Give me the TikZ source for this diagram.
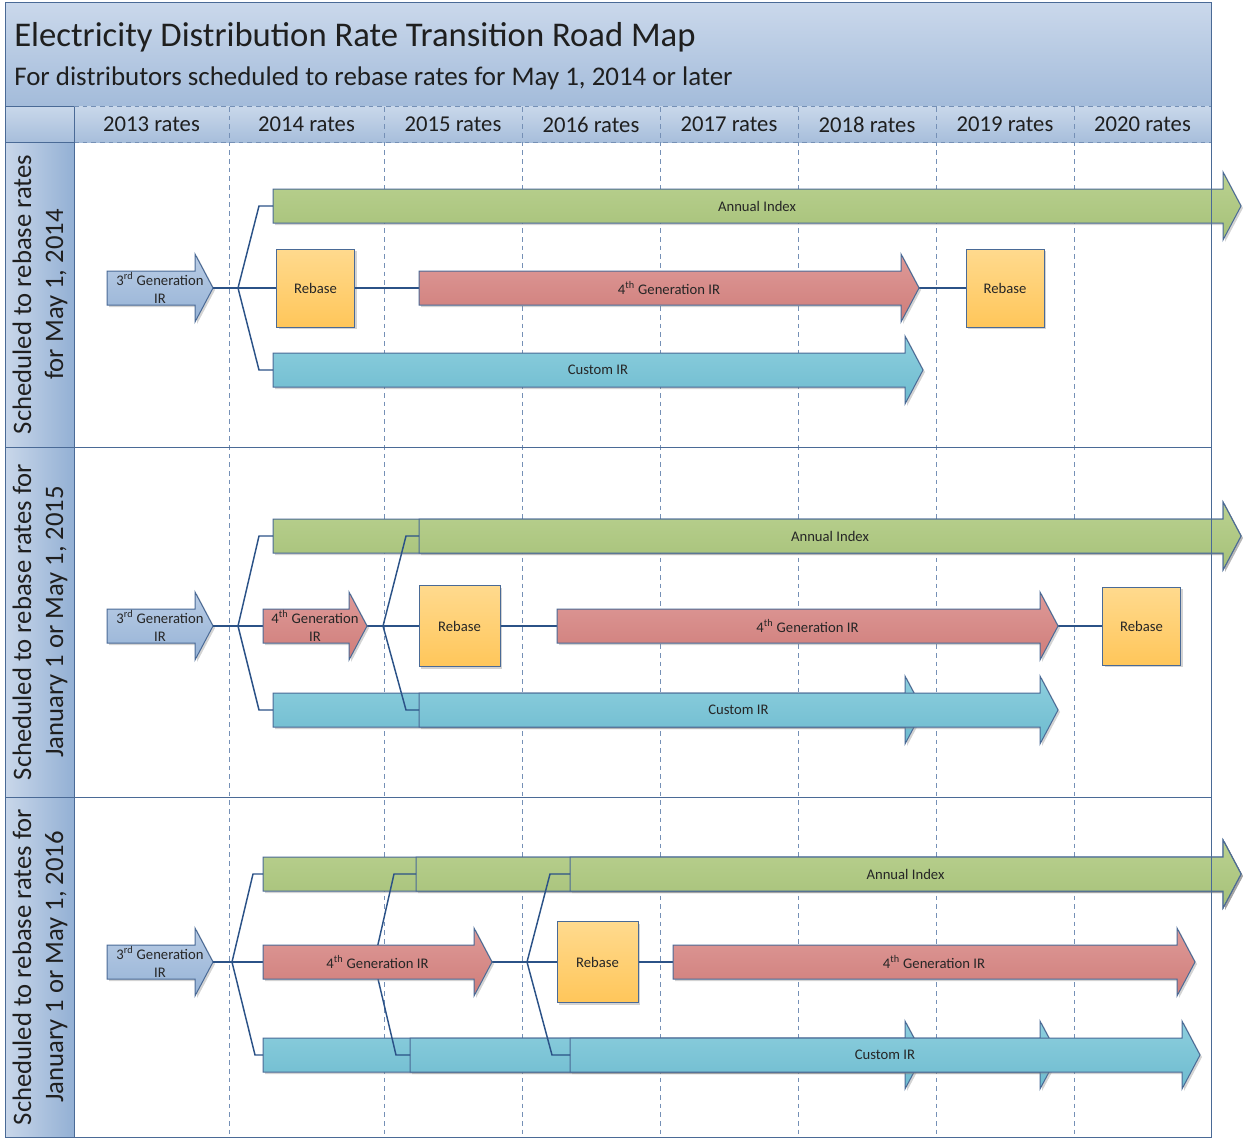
\documentclass[tikz,border=0pt]{standalone}
\usepackage{fontspec}
\setmainfont{Carlito}
\usepackage{tikz}
\usetikzlibrary{calc}
\usetikzlibrary{shadows}
\definecolor{rimc}{HTML}{4A6A96}
\definecolor{dashc}{HTML}{7590B6}
\definecolor{linkc}{HTML}{2B5287}
\definecolor{txtc}{HTML}{262626}
\definecolor{bandtop}{HTML}{CAD8EB}
\definecolor{bandbot}{HTML}{A3BBDA}
\definecolor{headtop}{HTML}{C8D7EA}
\definecolor{headbot}{HTML}{A7BEDB}
\definecolor{lanelight}{HTML}{C9D7EA}
\definecolor{lanedark}{HTML}{93B0D4}
\definecolor{greentop}{HTML}{BAD190}
\definecolor{greenbot}{HTML}{A6C179}
\definecolor{redtop}{HTML}{DE9A98}
\definecolor{redbot}{HTML}{CF7D7A}
\definecolor{bluetop}{HTML}{8ECFDE}
\definecolor{bluebot}{HTML}{6DBBCF}
\definecolor{navtop}{HTML}{BACDE5}
\definecolor{navbot}{HTML}{95B2D6}
\definecolor{rebtop}{HTML}{FFDA8E}
\definecolor{rebbot}{HTML}{FFC65A}
\tikzset{
  rim/.style = {draw=rimc, line width=0.75pt},
  griddash/.style = {draw=dashc, line width=0.75pt, dash pattern=on 3.5pt off 3pt},
  band/.style = {rim, top color=bandtop, bottom color=bandbot},
  headrow/.style = {top color=headtop, bottom color=headbot},
  corner/.style = {rim, top color=headtop, bottom color=headbot},
  lanecell/.style = {rim, left color=lanelight, right color=lanedark},
  shad/.style = {drop shadow={shadow xshift=1.5pt, shadow yshift=-1.5pt, opacity=0.35}},
  greenbar/.style = {rim, shad, top color=greentop, bottom color=greenbot},
  redbar/.style = {rim, shad, top color=redtop, bottom color=redbot},
  bluebar/.style = {rim, shad, top color=bluetop, bottom color=bluebot},
  navbar/.style = {rim, shad, top color=navtop, bottom color=navbot},
  rebasebox/.style = {rim, shad, top color=rebtop, bottom color=rebbot, minimum size=58.5pt,
    inner sep=0, font=\fontsize{11}{13.5}\selectfont, text=txtc},
  link/.style = {draw=linkc, line width=1.1pt},
  lbl/.style = {font=\fontsize{11}{13.5}\selectfont, text=txtc, align=center, inner sep=0},
  titletxt/.style = {font=\fontsize{26}{30}\selectfont, text=black!88, inner sep=0, anchor=base west},
  subtxt/.style = {font=\fontsize{20.2}{24}\selectfont, text=black!88, inner sep=0, anchor=base west},
  colhead/.style = {font=\fontsize{17}{20}\selectfont, text=black!88, inner sep=0},
  lanelbl/.style = {font=\fontsize{20}{24}\selectfont, text=black!88, align=center, rotate=90, inner sep=0},
}
% style, name, x start, x tip, y centre, text
\newcommand{\flowarrow}[6]{%
  \path[#1] (#3,#5-17) -- (#4-18,#5-17) -- (#4-18,#5-34) -- (#4,#5)
    -- (#4-18,#5+34) -- (#4-18,#5+17) -- (#3,#5+17) -- cycle;
  \coordinate (#2-w) at (#3,#5);
  \coordinate (#2-e) at (#4,#5);
  \node[lbl] (#2) at ({(#3+#4)/2},#5) {#6};
}

\begin{document}
\begin{tikzpicture}[x=0.75pt, y=-0.75pt]
  \useasboundingbox (0,0) rectangle (1243,1138);

  % heading
  \path[band] (5,3) rectangle (1211,107);
  \node[titletxt] (title) at (14,47) {Electricity Distribution Rate Transition Road Map};
  \node[subtxt] (subtitle) at (14,86) {For distributors scheduled to rebase rates for May 1, 2014 or later};
  \path[headrow] (74,107) rectangle (1211,142);
  \path[corner] (5,107) rectangle (74,142);
  \draw[griddash] (74,107) -- (1211,107) (74,142) -- (1211,142);
  \foreach \l/\r/\yr in {74/229/2013, 229/384/2014, 384/522/2015, 522/660/2016,
      660/798/2017, 798/936/2018, 936/1074/2019, 1074/1211/2020}
    \node[colhead] (h\yr) at ({(\l+\r)/2},124.5) {\yr{} rates};
  \foreach \x in {229,384,522,660,798,936,1074}
    \draw[griddash] (\x,107) -- (\x,1137);

  % lanes
  \path[lanecell] (5,142) rectangle (74,447);
  \path[lanecell] (5,447) rectangle (74,797);
  \path[lanecell] (5,797) rectangle (74,1137);
  \draw[rim] (74,447) -- (1211,447) (74,797) -- (1211,797);
  \node[lanelbl] (laneA) at (40,294.5) {Scheduled to rebase rates\\for May 1, 2014};
  \node[lanelbl] (laneB) at (40,622) {Scheduled to rebase rates for\\January 1 or May 1, 2015};
  \node[lanelbl] (laneC) at (40,967) {Scheduled to rebase rates for\\January 1 or May 1, 2016};

  % lane A
  \flowarrow{greenbar}{aiA}{273}{1241}{206}{Annual Index}
  \flowarrow{bluebar}{ciA}{273}{923}{370}{Custom IR}
  \coordinate (brA1) at (238,288);
  \node[rebasebox] (rbA1) at (315.5,288) {Rebase};
  \node[rebasebox] (rbA2) at (1005,288) {Rebase};
  \draw[link] (brA1) -- ($(aiA-w)+(-14,0)$) -- (aiA-w);
  \draw[link] (brA1) -- ($(ciA-w)+(-14,0)$) -- (ciA-w);
  \draw[link] (brA1) -- (rbA1.west);
  \draw[link] (rbA1.east) -- (419,288);
  \draw[link] (919,288) -- (rbA2.west);
  \flowarrow{redbar}{g4A}{419}{919}{288}{4\textsuperscript{th} Generation IR}
  \flowarrow{navbar}{g3A}{107}{213}{288}{3\textsuperscript{rd} Generation\\IR}
  \draw[link] (g3A-e) -- (brA1);

  % lane B
  \flowarrow{greenbar}{aiB1}{273}{1241}{536}{}
  \flowarrow{greenbar}{aiB2}{419}{1241}{536}{Annual Index}
  \flowarrow{bluebar}{ciB1}{273}{923}{710}{}
  \flowarrow{bluebar}{ciB2}{419}{1058}{710}{Custom IR}
  \coordinate (brB1) at (238,626);
  \coordinate (brB2) at (383,626);
  \node[rebasebox, minimum size=60.75pt] (rbB1) at (459.5,626) {Rebase};
  \node[rebasebox] (rbB2) at (1141.5,626) {Rebase};
  \draw[link] (brB1) -- ($(aiB1-w)+(-14,0)$) -- (aiB1-w);
  \draw[link] (brB1) -- ($(ciB1-w)+(-14,0)$) -- (ciB1-w);
  \draw[link] (brB1) -- (263,626);
  \draw[link] (367,626) -- (brB2);
  \draw[link] (brB2) -- ($(aiB2-w)+(-13,0)$) -- (aiB2-w);
  \draw[link] (brB2) -- ($(ciB2-w)+(-13,0)$) -- (ciB2-w);
  \draw[link] (brB2) -- (rbB1.west);
  \draw[link] (rbB1.east) -- (557,626);
  \draw[link] (1058,626) -- (rbB2.west);
  \flowarrow{redbar}{g4B1}{263}{367}{626}{4\textsuperscript{th} Generation\\IR}
  \flowarrow{redbar}{g4B2}{557}{1058}{626}{4\textsuperscript{th} Generation IR}
  \flowarrow{navbar}{g3B}{107}{213}{626}{3\textsuperscript{rd} Generation\\IR}
  \draw[link] (g3B-e) -- (brB1);

  % lane C
  \flowarrow{greenbar}{aiC1}{263}{1241}{874}{}
  \flowarrow{greenbar}{aiC2}{416}{1241}{874}{}
  \flowarrow{greenbar}{aiC3}{570}{1241}{874}{Annual Index}
  \flowarrow{bluebar}{ciC1}{263}{923}{1055}{}
  \flowarrow{bluebar}{ciC2}{410}{1058}{1055}{}
  \flowarrow{bluebar}{ciC3}{570}{1200}{1055}{Custom IR}
  \coordinate (brC1) at (232,962);
  \coordinate (brC2) at (374,962);
  \coordinate (brC3) at (527,962);
  \node[rebasebox, minimum size=60.75pt] (rbC1) at (597.5,962) {Rebase};
  \draw[link] (brC1) -- ($(aiC1-w)+(-10,0)$) -- (aiC1-w);
  \draw[link] (brC1) -- ($(ciC1-w)+(-8,0)$) -- (ciC1-w);
  \draw[link] (brC1) -- (263,962);
  \draw[link] (brC2) -- ($(aiC2-w)+(-22,0)$) -- (aiC2-w);
  \draw[link] (brC2) -- ($(ciC2-w)+(-14,0)$) -- (ciC2-w);
  \draw[link] (492,962) -- (brC3);
  \draw[link] (brC3) -- ($(aiC3-w)+(-20,0)$) -- (aiC3-w);
  \draw[link] (brC3) -- ($(ciC3-w)+(-18,0)$) -- (ciC3-w);
  \draw[link] (brC3) -- (rbC1.west);
  \draw[link] (rbC1.east) -- (673,962);
  \flowarrow{redbar}{g4C1}{263}{492}{962}{4\textsuperscript{th} Generation IR}
  \flowarrow{redbar}{g4C2}{673}{1195}{962}{4\textsuperscript{th} Generation IR}
  \flowarrow{navbar}{g3C}{107}{213}{962}{3\textsuperscript{rd} Generation\\IR}
  \draw[link] (g3C-e) -- (brC1);

  \draw[rim] (5,3) rectangle (1211,1137);
\end{tikzpicture}
\end{document}
